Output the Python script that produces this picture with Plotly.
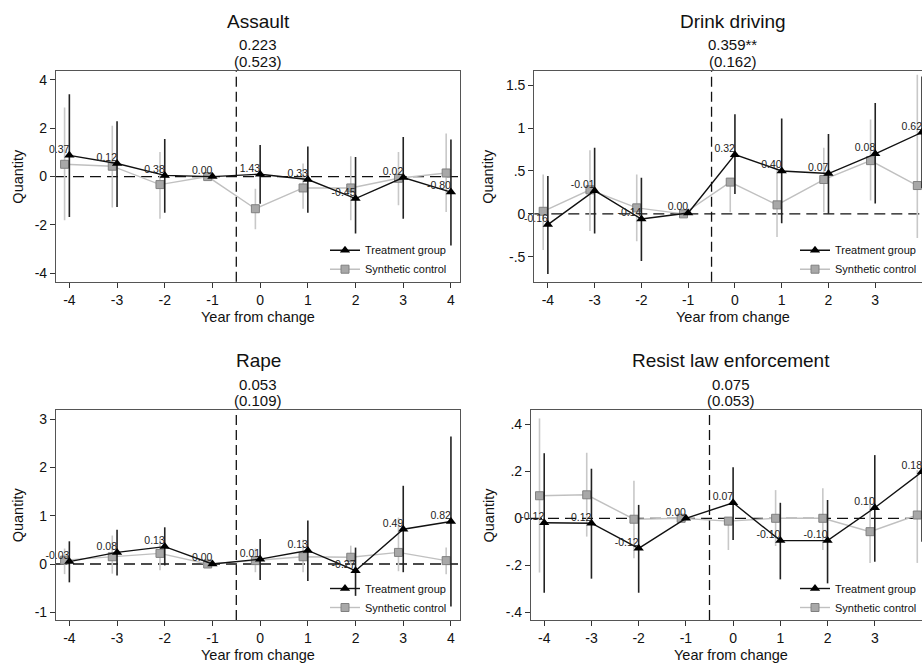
import plotly.graph_objects as go

W, H = 922, 663

years = [-4, -3, -2, -1, 0, 1, 2, 3, 4]

# ---------------- data ----------------
assault_title = "Assault"
assault_est = "0.223"
assault_se = "(0.523)"
assault_treat = [0.88, 0.54, 0.05, 0.0, 0.10, -0.12, -0.91, -0.04, -0.64]
assault_treat_lo = [-1.67, -1.26, -1.50, 0.0, -1.12, -1.50, -2.36, -1.74, -2.85]
assault_treat_hi = [3.41, 2.29, 1.56, 0.0, 1.31, 1.25, 0.81, 1.64, 1.53]
assault_ctrl = [0.51, 0.43, -0.33, 0.0, -1.33, -0.47, -0.47, -0.07, 0.15]
assault_ctrl_lo = [-1.81, -1.28, -1.74, 0.0, -2.18, -1.33, -1.81, -1.19, -1.47]
assault_ctrl_hi = [2.86, 2.10, 1.02, 0.0, -0.50, 0.54, 0.84, 1.02, 1.78]
assault_labels = ["0.37", "0.12", "0.38", "0.00", "1.43", "0.33", "-0.45", "0.02", "-0.80"]
assault_yticks = [-4, -2, 0, 2, 4]
assault_yticktext = ["-4", "-2", "0", "2", "4"]

drink_title = "Drink driving"
drink_est = "0.359**"
drink_se = "(0.162)"
drink_treat = [-0.125, 0.27, -0.06, 0.01, 0.69, 0.50, 0.47, 0.70, 0.95]
drink_treat_lo = [-0.70, -0.23, -0.55, 0.01, 0.23, -0.11, 0.00, 0.12, 0.30]
drink_treat_hi = [0.44, 0.77, 0.42, 0.01, 1.16, 1.11, 0.93, 1.29, 1.60]
drink_ctrl = [0.03, 0.28, 0.07, 0.0, 0.37, 0.105, 0.40, 0.62, 0.33]
drink_ctrl_lo = [-0.42, -0.20, -0.32, 0.0, 0.02, -0.27, 0.02, 0.155, -0.28]
drink_ctrl_hi = [0.46, 0.74, 0.46, 0.0, 0.40, 0.56, 0.77, 1.10, 1.62]
drink_labels = ["-0.16", "-0.01", "-0.14", "0.00", "0.32", "0.40", "0.07", "0.08", "0.62"]
drink_yticks = [-0.5, 0, 0.5, 1, 1.5]
drink_yticktext = ["-.5", "0", ".5", "1", "1.5"]

rape_title = "Rape"
rape_est = "0.053"
rape_se = "(0.109)"
rape_treat = [0.05, 0.24, 0.36, 0.0, 0.10, 0.28, -0.14, 0.72, 0.88]
rape_treat_lo = [-0.38, -0.24, -0.03, 0.0, -0.33, -0.35, -0.66, -0.17, -0.88]
rape_treat_hi = [0.47, 0.71, 0.76, 0.0, 0.52, 0.90, 0.34, 1.62, 2.64]
rape_ctrl = [0.08, 0.15, 0.22, 0.0, 0.07, 0.15, 0.14, 0.24, 0.07]
rape_ctrl_lo = [-0.21, -0.20, -0.13, 0.0, -0.17, -0.17, -0.03, -0.15, -0.21]
rape_ctrl_hi = [0.32, 0.59, 0.55, 0.0, 0.32, 0.50, 0.38, 0.96, 0.34]
rape_labels = ["-0.03", "0.08", "0.13", "0.00", "0.01", "0.13", "-0.27", "0.49", "0.82"]
rape_yticks = [-1, 0, 1, 2, 3]
rape_yticktext = ["-1", "0", "1", "2", "3"]

resist_title = "Resist law enforcement"
resist_est = "0.075"
resist_se = "(0.053)"
resist_treat = [-0.019, -0.021, -0.128, 0.0, 0.066, -0.095, -0.095, 0.045, 0.198]
resist_treat_lo = [-0.317, -0.257, -0.317, 0.0, -0.092, -0.26, -0.277, -0.185, -0.10]
resist_treat_hi = [0.277, 0.211, 0.057, 0.0, 0.217, 0.066, 0.078, 0.269, 0.50]
resist_ctrl = [0.096, 0.10, -0.004, 0.0, -0.012, 0.0, 0.0, -0.057, 0.014]
resist_ctrl_lo = [-0.231, -0.078, -0.17, 0.0, -0.135, -0.118, -0.135, -0.19, -0.19]
resist_ctrl_hi = [0.425, 0.279, 0.16, 0.0, 0.0, 0.12, 0.128, 0.092, 0.205]
resist_labels = ["-0.12", "-0.12", "-0.12", "0.00", "0.07", "-0.10", "-0.10", "0.10", "0.18"]
resist_yticks = [-0.4, -0.2, 0, 0.2, 0.4]
resist_yticktext = ["-.4", "-.2", "0", ".2", ".4"]

xtick_labels = ["-4", "-3", "-2", "-1", "0", "1", "2", "3", "4"]
treat_name = "Treatment group"
ctrl_name = "Synthetic control"
x_title = "Year from change"
y_title = "Quantity"
change_at = -0.5

# ---------------- layout helpers ----------------
FONT = "Liberation Sans, Arial, sans-serif"
CTRL_OFFSET = -0.1


def px_x(p):
    return p / W


def px_y(p):
    return 1 - p / H


panels = [
    dict(title=assault_title, est=assault_est, se=assault_se, t=assault_treat, tlo=assault_treat_lo,
         thi=assault_treat_hi, c=assault_ctrl, clo=assault_ctrl_lo, chi=assault_ctrl_hi,
         lab=assault_labels, yt=assault_yticks, ytt=assault_yticktext,
         box=(56, 460, 71, 281.7), xr=[-4.28, 4.19], yr=[-4.35, 4.37], qx=18.3, right=False),
    dict(title=drink_title, est=drink_est, se=drink_se, t=drink_treat, tlo=drink_treat_lo,
         thi=drink_treat_hi, c=drink_ctrl, clo=drink_ctrl_lo, chi=drink_ctrl_hi,
         lab=drink_labels, yt=drink_yticks, ytt=drink_yticktext,
         box=(534.3, 922, 71, 281.7), xr=[-4.29, 4.0], yr=[-0.79, 1.664], qx=488.5, right=True),
    dict(title=rape_title, est=rape_est, se=rape_se, t=rape_treat, tlo=rape_treat_lo,
         thi=rape_treat_hi, c=rape_ctrl, clo=rape_ctrl_lo, chi=rape_ctrl_hi,
         lab=rape_labels, yt=rape_yticks, ytt=rape_yticktext,
         box=(56, 460, 410, 620), xr=[-4.28, 4.19], yr=[-1.16, 3.19], qx=18.3, right=False),
    dict(title=resist_title, est=resist_est, se=resist_se, t=resist_treat, tlo=resist_treat_lo,
         thi=resist_treat_hi, c=resist_ctrl, clo=resist_ctrl_lo, chi=resist_ctrl_hi,
         lab=resist_labels, yt=resist_yticks, ytt=resist_yticktext,
         box=(531, 922, 410, 620), xr=[-4.28, 4.0], yr=[-0.433, 0.461], qx=488.5, right=True),
]

fig = go.Figure()
annotations = []
shapes = []
layout = {}

for i, p in enumerate(panels, start=1):
    sfx = "" if i == 1 else str(i)
    xa, ya = "x" + sfx, "y" + sfx
    leg = "legend" + sfx
    x0, x1, y0, y1 = p["box"]
    # full plot-area width (right panels extend beyond the picture)
    full_x1 = x1 if not p["right"] else x0 + (4.2 - p["xr"][0]) * (x1 - x0) / (p["xr"][1] - p["xr"][0])
    cx = (x0 + full_x1) / 2

    # control CI + line
    cx_vals = [v + CTRL_OFFSET for v in years]
    fig.add_trace(go.Scatter(
        x=cx_vals, y=p["c"], mode="lines+markers", name=ctrl_name,
        line=dict(color="#c0c0c0", width=1.4),
        marker=dict(symbol="square", size=8, color="#a8a8a8", line=dict(color="#808080", width=1)),
        error_y=dict(type="data", symmetric=False,
                     array=[h - v for h, v in zip(p["chi"], p["c"])],
                     arrayminus=[v - l for l, v in zip(p["clo"], p["c"])],
                     color="#c8c8c8", thickness=1.6, width=0),
        xaxis=xa, yaxis=ya, legend=leg, cliponaxis=True,
    ))
    # treatment CI + line
    fig.add_trace(go.Scatter(
        x=years, y=p["t"], mode="lines+markers", name=treat_name,
        line=dict(color="#111111", width=1.4),
        marker=dict(symbol="triangle-up", size=9, color="#000000"),
        error_y=dict(type="data", symmetric=False,
                     array=[h - v for h, v in zip(p["thi"], p["t"])],
                     arrayminus=[v - l for l, v in zip(p["tlo"], p["t"])],
                     color="#222222", thickness=1.6, width=0),
        xaxis=xa, yaxis=ya, legend=leg, cliponaxis=True,
    ))
    # difference labels
    fig.add_trace(go.Scatter(
        x=years, y=p["t"], mode="text", text=p["lab"], textposition="top left",
        textfont=dict(family=FONT, size=10.5, color="#222222"),
        showlegend=False, xaxis=xa, yaxis=ya, hoverinfo="skip", cliponaxis=False,
    ))

    layout["xaxis" + sfx] = dict(
        domain=[px_x(x0), px_x(x1)], range=p["xr"], anchor=ya, automargin=False,
        tickvals=years, ticktext=xtick_labels, ticks="outside", ticklen=5, tickwidth=1,
        tickcolor="#333", showgrid=False, zeroline=False, showline=True, linecolor="#555",
        linewidth=1.2, mirror=True, tickfont=dict(family=FONT, size=14, color="#111"),
    )
    layout["yaxis" + sfx] = dict(
        domain=[px_y(y1), px_y(y0)], range=p["yr"], anchor=xa, automargin=False,
        tickvals=p["yt"], ticktext=p["ytt"], ticks="outside", ticklen=5, tickwidth=1,
        tickcolor="#333", showgrid=False, zeroline=False, showline=True, linecolor="#555",
        linewidth=1.2, mirror=not p["right"], tickfont=dict(family=FONT, size=14, color="#111"),
    )
    layout[leg] = dict(
        x=px_x(x1 - 8 if not p["right"] else 922), xanchor="right",
        y=px_y(y1 + 2), yanchor="bottom", bgcolor="rgba(0,0,0,0)",
        font=dict(family=FONT, size=11, color="#111"), tracegroupgap=0,
        traceorder="reversed",
    )

    # reference lines
    shapes.append(dict(type="line", xref=xa + " domain", yref=ya, x0=0, x1=1, y0=0, y1=0,
                       line=dict(color="#111", width=1.3, dash="11px,6px"), layer="below"))
    shapes.append(dict(type="line", xref=xa, yref=ya + " domain", x0=change_at, x1=change_at, y0=0, y1=1,
                       line=dict(color="#111", width=1.3, dash="10px,5px"), layer="below"))

    # titles
    common = dict(xref="paper", yref="paper", showarrow=False, xanchor="center", yanchor="middle")
    annotations.append(dict(text=p["title"], x=px_x(cx), y=px_y(y0 - 49.5),
                            font=dict(family=FONT, size=19, color="#111"), **common))
    annotations.append(dict(text=p["est"], x=px_x(cx), y=px_y(y0 - 26),
                            font=dict(family=FONT, size=15, color="#111"), **common))
    annotations.append(dict(text=p["se"], x=px_x(cx), y=px_y(y0 - 9.5),
                            font=dict(family=FONT, size=15, color="#111"), **common))
    annotations.append(dict(text=x_title, x=px_x(cx), y=px_y(y1 + 35),
                            font=dict(family=FONT, size=14.5, color="#111"), **common))
    annotations.append(dict(text=y_title, x=px_x(p["qx"]), y=px_y((y0 + y1) / 2), textangle=-90,
                            font=dict(family=FONT, size=14.5, color="#111"), **common))

fig.update_layout(
    template="none",
    width=W, height=H, margin=dict(l=0, r=0, t=0, b=0, autoexpand=False),
    paper_bgcolor="white", plot_bgcolor="white",
    annotations=annotations, shapes=shapes, showlegend=True,
    **layout,
)

fig.write_html(
    "out.html",
    config={"displayModeBar": False},
    post_script="document.body.style.margin='0px';document.body.style.overflow='hidden';",
)
